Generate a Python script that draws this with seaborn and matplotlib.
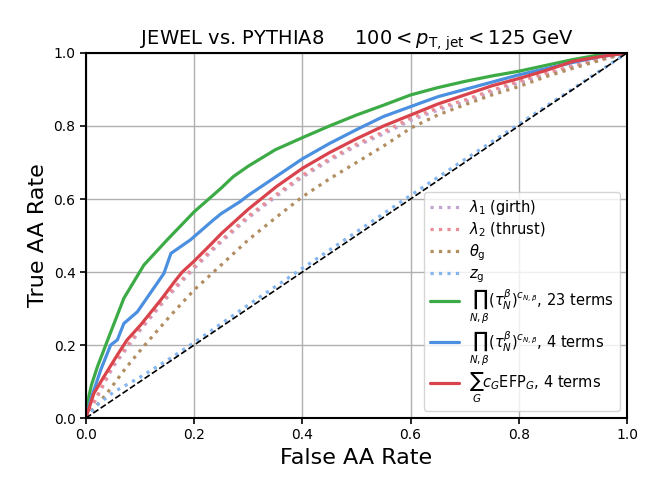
import matplotlib
matplotlib.use("Agg")
import matplotlib.pyplot as plt
import seaborn as sns
import pandas as pd

# ROC curves (false rate, true rate)
girth_x = [0, 0.05, 0.1, 0.15, 0.2, 0.25, 0.3, 0.35, 0.4, 0.45, 0.5, 0.55, 0.6, 0.65, 0.7, 0.75, 0.8, 0.85, 0.9, 0.95, 1.0]
girth_y = [0, 0.14, 0.24, 0.33, 0.41, 0.482, 0.548, 0.605, 0.66, 0.705, 0.745, 0.778, 0.815, 0.843, 0.866, 0.893, 0.918, 0.94, 0.962, 0.981, 1.0]

thrust_x = [0, 0.05, 0.1, 0.15, 0.2, 0.25, 0.3, 0.35, 0.4, 0.45, 0.5, 0.55, 0.6, 0.65, 0.7, 0.75, 0.8, 0.85, 0.9, 0.95, 1.0]
thrust_y = [0, 0.145, 0.245, 0.335, 0.415, 0.487, 0.553, 0.61, 0.665, 0.71, 0.75, 0.784, 0.821, 0.849, 0.871, 0.898, 0.922, 0.944, 0.965, 0.983, 1.0]

thetag_x = [0, 0.039, 0.073, 0.107, 0.157, 0.2, 0.233, 0.3, 0.35, 0.4, 0.45, 0.5, 0.55, 0.6, 0.65, 0.7, 0.75, 0.8, 0.85, 0.9, 0.95, 1.0]
thetag_y = [0, 0.068, 0.136, 0.197, 0.282, 0.351, 0.396, 0.488, 0.548, 0.606, 0.655, 0.70, 0.745, 0.794, 0.83, 0.858, 0.885, 0.908, 0.935, 0.958, 0.98, 1.0]

zg_x = [0, 0.02, 0.05, 0.1, 0.15, 0.2, 0.3, 0.4, 0.5, 0.6, 0.7, 0.8, 0.9, 1.0]
zg_y = [0, 0.035, 0.07, 0.112, 0.158, 0.207, 0.31, 0.41, 0.51, 0.61, 0.708, 0.805, 0.902, 1.0]

nsub23_x = [0, 0.0025, 0.01, 0.021, 0.0425, 0.07, 0.107, 0.15, 0.2, 0.25, 0.272, 0.3, 0.35, 0.4, 0.45, 0.5, 0.55, 0.6, 0.65, 0.7, 0.75, 0.8, 0.85, 0.9, 0.95, 1.0]
nsub23_y = [0, 0.04, 0.09, 0.14, 0.223, 0.328, 0.419, 0.488, 0.565, 0.63, 0.661, 0.69, 0.735, 0.768, 0.80, 0.83, 0.857, 0.885, 0.905, 0.922, 0.937, 0.95, 0.966, 0.982, 0.995, 1.0]

nsub4_x = [0, 0.0086, 0.027, 0.0456, 0.058, 0.070, 0.095, 0.144, 0.157, 0.193, 0.235, 0.25, 0.285, 0.3, 0.35, 0.4, 0.45, 0.5, 0.55, 0.6, 0.65, 0.7, 0.75, 0.8, 0.85, 0.9, 0.95, 1.0]
nsub4_y = [0, 0.049, 0.131, 0.20, 0.214, 0.259, 0.291, 0.396, 0.451, 0.488, 0.542, 0.56, 0.593, 0.61, 0.66, 0.71, 0.752, 0.79, 0.826, 0.853, 0.88, 0.90, 0.92, 0.94, 0.957, 0.974, 0.99, 1.0]

efp4_x = [0, 0.0025, 0.0148, 0.033, 0.058, 0.076, 0.101, 0.138, 0.166, 0.178, 0.2, 0.233, 0.25, 0.3, 0.352, 0.4, 0.45, 0.5, 0.55, 0.6, 0.65, 0.7, 0.75, 0.8, 0.85, 0.9, 0.95, 1.0]
efp4_y = [0, 0.013, 0.068, 0.113, 0.173, 0.214, 0.255, 0.323, 0.378, 0.40, 0.43, 0.479, 0.505, 0.572, 0.634, 0.684, 0.727, 0.765, 0.80, 0.83, 0.86, 0.885, 0.91, 0.93, 0.952, 0.977, 0.99, 1.0]

diag = [0, 1]

prod_lbl = r'$\prod_{N,\beta}(\tau_N^{\beta})^{c_{N,\beta}}$'
curves = [
    (girth_x, girth_y, r'$\lambda_1$ (girth)', '#c3a6cf', ':'),
    (thrust_x, thrust_y, r'$\lambda_2$ (thrust)', '#eb8d95', ':'),
    (thetag_x, thetag_y, r'$\theta_\mathrm{g}$', '#b18d60', ':'),
    (zg_x, zg_y, r'$z_\mathrm{g}$', '#84b5ee', ':'),
    (nsub23_x, nsub23_y, prod_lbl + ', 23 terms', '#3cab46', '-'),
    (nsub4_x, nsub4_y, prod_lbl + ', 4 terms', '#4a8fe0', '-'),
    (efp4_x, efp4_y, r'$\sum_{G} c_G\mathrm{EFP}_G$, 4 terms', '#d9434c', '-'),
]

sns.set_style("ticks")
plt.rcParams['font.family'] = ['DejaVu Sans']
plt.rcParams['text.color'] = 'black'
plt.rcParams['axes.labelcolor'] = 'black'
plt.rcParams['xtick.color'] = 'black'
plt.rcParams['ytick.color'] = 'black'

fig = plt.figure(figsize=(6.64, 4.98), dpi=100)
ax = fig.add_axes([0.1295, 0.1606, 0.8147, 0.733])

for xs, ys, lbl, col, ls in curves:
    df = pd.DataFrame({'x': xs, 'y': ys})
    sns.lineplot(data=df, x='x', y='y', ax=ax, color=col, linestyle=ls,
                 lw=2.3, label=lbl, estimator=None, sort=False)

sns.lineplot(x=diag, y=diag, ax=ax, color='black', linestyle='--', lw=1.2,
             estimator=None, sort=False)

ax.set_xlim(0, 1)
ax.set_ylim(0, 1)
ax.set_xticks([0, 0.2, 0.4, 0.6, 0.8, 1.0])
ax.set_yticks([0, 0.2, 0.4, 0.6, 0.8, 1.0])
ax.grid(True, color='#b0b0b0', lw=1.0)
ax.set_axisbelow(True)
for s in ax.spines.values():
    s.set_linewidth(1.5)
    s.set_color('black')
ax.tick_params(direction='out', length=4, width=1.2, labelsize=10, colors='black')

ax.set_xlabel('False AA Rate', fontsize=16, color='black')
ax.set_ylabel('True AA Rate', fontsize=16, color='black')
ax.set_title(r'JEWEL vs. PYTHIA8     $100 < p_{\mathrm{T,\,jet}} < 125$ GeV',
             fontsize=14, color='black')

leg = ax.legend(loc='lower right', fontsize=10.5, frameon=True, framealpha=0.8,
                edgecolor='#cccccc', handlelength=2.0, labelspacing=0.22,
                handletextpad=0.7)
for t in leg.get_texts():
    t.set_color('black')

plt.savefig('out.png', dpi=100)
